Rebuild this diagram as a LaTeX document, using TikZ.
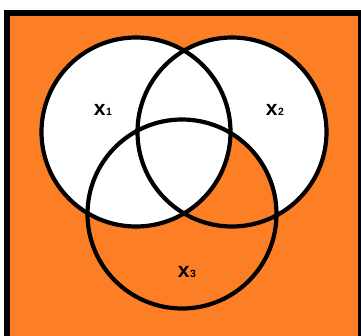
\documentclass[tikz,border=0pt]{standalone}
\usepackage{fontspec}
\setmainfont{Liberation Sans}
\definecolor{setorange}{RGB}{252,127,38}
\tikzset{
  setfill/.style={circle, minimum size=#1, inner sep=0pt, draw=none},
  setline/.style={line width=4.2pt, draw=black},
  setlabel/.style={font=\fontsize{21}{21}\selectfont\bfseries, inner sep=0pt}
}
\newcommand{\setname}[1]{x\kern0.5pt\raisebox{-0.5pt}{\fontsize{10.5}{10.5}\selectfont\bfseries #1}}

\begin{document}
\begin{tikzpicture}[x=1pt, y=-1pt]
\useasboundingbox (0,0) rectangle (361,335);
\clip (0,0) rectangle (361,335);
% universe
\draw[fill=setorange, line width=6pt] (7,13) rectangle (361,345);

% sets, filled in order x2, x3, x1
\node[setfill=192pt, fill=white] (x2) at (232,132) {};
\node[setfill=192pt, fill=setorange] (x3) at (182,214) {};
\node[setfill=192pt, fill=white] (x1) at (136,132) {};

% outlines
\foreach \s in {x1,x2,x3}
  \draw[setline] (\s.center) circle[radius=94.5pt];

\node[setlabel] (lab1) at (103,110) {\setname{1}};
\node[setlabel] (lab2) at (275,110) {\setname{2}};
\node[setlabel] (lab3) at (187,272) {\setname{3}};
\end{tikzpicture}
\end{document}
